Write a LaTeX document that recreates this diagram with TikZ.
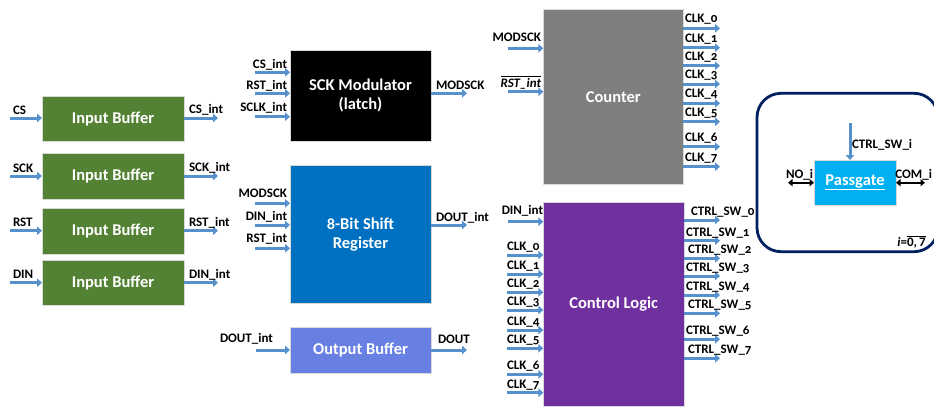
\documentclass[tikz,border=0pt]{standalone}
\usepackage{fontspec}
\setmainfont{Carlito}[Numbers=OldStyle]
\usetikzlibrary{arrows.meta}
\definecolor{ibgreen}{RGB}{84,130,53}
\definecolor{srblue}{RGB}{0,112,192}
\definecolor{obblue}{RGB}{103,128,226}
\definecolor{cntgray}{RGB}{127,127,127}
\definecolor{clpurple}{RGB}{112,48,160}
\definecolor{pgcyan}{RGB}{0,176,240}
\definecolor{panelnavy}{RGB}{0,32,96}
\definecolor{sigblue}{RGB}{86,145,205}
\tikzset{
  blk/.style={draw=gray!30, line width=0.6pt, inner sep=0pt, outer sep=0pt, text=white,
    font=\fontsize{16.5}{19.5}\selectfont\bfseries, align=center},
  lbl/.style={inner sep=0pt, outer sep=0pt, font=\fontsize{13}{15}\selectfont\bfseries, text=black},
  sig/.style={draw=sigblue, line width=3pt, -{Triangle[length=5pt,width=8.5pt]}},
  bidir/.style={draw=black, line width=2pt, {Triangle[length=4.5pt,width=7pt]}-{Triangle[length=4.5pt,width=7pt]}},
}
% box: name, x1, y1, x2, y2, fill, text
\newcommand\mkbox[7]{%
  \pgfmathsetmacro\myBW{#4-#2}\pgfmathsetmacro\myBH{#5-#3}%
  \node[blk, fill=#6, minimum width=\myBW pt, minimum height=\myBH pt] (#1) at ({(#2+#4)/2},{(#3+#5)/2}) {#7};}
% input arrow: box, id, x0, y
\newcommand\inarr[4]{\coordinate (#1-#2) at (#3,#4); \draw[sig] (#1-#2) -- (#1-#2 -| #1.west);}
% output arrow: box, id, x1, y
\newcommand\outarr[4]{\coordinate (#1-#2) at (#3,#4); \draw[sig] (#1-#2 -| #1.east) -- (#1-#2);}
\begin{document}
\begin{tikzpicture}[x=1pt,y=-1pt]
\useasboundingbox (0,0) rectangle (934,408);

% ---------- Input buffers ----------
\mkbox{ib1}{42}{96}{184}{141.5}{ibgreen}{Input Buffer}
\mkbox{ib2}{42}{153.3}{184}{199}{ibgreen}{Input Buffer}
\mkbox{ib3}{42}{208.3}{184}{254.3}{ibgreen}{Input Buffer}
\mkbox{ib4}{42}{260}{184}{305}{ibgreen}{Input Buffer}

\inarr{ib1}{in}{10}{118}   \node[lbl, anchor=base west] (l-cs) at (13,114) {CS};
\inarr{ib2}{in}{10}{176}   \node[lbl, anchor=base west] (l-sck) at (13,172) {SCK};
\inarr{ib3}{in}{10}{230.7} \node[lbl, anchor=base west] (l-rst) at (13,226.7) {RST};
\inarr{ib4}{in}{10}{282.7} \node[lbl, anchor=base west] (l-din) at (13,278.5) {DIN};

\outarr{ib1}{out}{218}{118}   \node[lbl, anchor=base west] (l-csi) at (189,113.5) {CS\_int};
\outarr{ib2}{out}{218}{176}   \node[lbl, anchor=base west] (l-scki) at (189,171.5) {SCK\_int};
\outarr{ib3}{out}{218}{230.7} \node[lbl, anchor=base west] (l-rsti) at (189,226.5) {RST\_int};
\outarr{ib4}{out}{218}{282.7} \node[lbl, anchor=base west] (l-dini) at (189,278.3) {DIN\_int};

% ---------- SCK Modulator ----------
\mkbox{sck}{290}{50}{431}{141}{black}{SCK Modulator\\(latch)}
\inarr{sck}{a}{255}{72.3}  \node[lbl, anchor=base east] (l-sck-a) at (287,68.3) {CS\_int};
\inarr{sck}{b}{255}{93.3}  \node[lbl, anchor=base east] (l-sck-b) at (287,89.3) {RST\_int};
\inarr{sck}{c}{255}{116.7} \node[lbl, anchor=base east] (l-sck-c) at (287,111.7) {SCLK\_int};
\outarr{sck}{o}{467}{93.3} \node[lbl, anchor=base west] (l-sck-o) at (436,89.5) {MODSCK};

% ---------- 8-bit shift register ----------
\mkbox{sr}{290}{165.7}{431}{303.3}{srblue}{8-Bit Shift\\Register}
\inarr{sr}{a}{255}{203.3} \node[lbl, anchor=base east] (l-sr-a) at (287,197.3) {MODSCK};
\inarr{sr}{b}{255}{225}   \node[lbl, anchor=base east] (l-sr-b) at (287,220.7) {DIN\_int};
\inarr{sr}{c}{255}{248.3} \node[lbl, anchor=base east] (l-sr-c) at (287,242.7) {RST\_int};
\outarr{sr}{o}{467}{225}  \node[lbl, anchor=base west] (l-sr-o) at (436,221) {DOUT\_int};

% ---------- Output buffer ----------
\mkbox{ob}{290}{327.3}{431}{373.3}{obblue}{Output Buffer}
\inarr{ob}{a}{256}{350}  \node[lbl, anchor=base west] (l-ob-a) at (220,342.5) {DOUT\_int};
\outarr{ob}{o}{467}{350} \node[lbl, anchor=base west] (l-ob-o) at (438,343) {DOUT};

% ---------- Counter ----------
\mkbox{cnt}{543.3}{9.3}{683.3}{184}{cntgray}{Counter}
\inarr{cnt}{a}{508}{48.3} \node[lbl, anchor=base east] (l-cnt-a) at (541,41) {MODSCK};
\inarr{cnt}{b}{508}{91.7} \node[lbl, anchor=base east] (l-cnt-b) at (541,87)
  {$\overline{\mbox{\fontsize{13}{15}\selectfont\bfseries\itshape RST\_int}}$};
\foreach \k/\yy in {0/28.3,1/47.7,2/65.7,3/84,4/103.3,5/121.7,6/146.7,7/166.7}{
  \outarr{cnt}{o\k}{720}{\yy}
  \node[lbl, anchor=base west] (l-cnt-o\k) at (685,\yy-5.5) {CLK\_\k};
}

% ---------- Control logic ----------
\mkbox{cl}{543.3}{202.3}{684}{406}{clpurple}{Control Logic}
\inarr{cl}{din}{508}{221.7} \node[lbl, anchor=base east] (l-cl-din) at (543,214) {DIN\_int};
\foreach \k/\yy in {0/255,1/274,2/292.3,3/310,4/330,5/348.3,6/374.3,7/392.7}{
  \inarr{cl}{i\k}{507}{\yy}
  \node[lbl, anchor=base west] (l-cl-i\k) at (507,\yy-4.5) {CLK\_\k};
}
\foreach \k/\yy/\xx in {0/220/691,1/240.7/686,2/258.3/688,3/276/686,4/295/686,5/313.3/688,6/339.3/686,7/358.3/688}{
  \outarr{cl}{o\k}{720}{\yy}
  \node[lbl, anchor=base west] (l-cl-o\k) at (\xx,\yy-4.5) {CTRL\_SW\_\k};
}

% ---------- Passgate panel ----------
\node[draw=panelnavy, line width=2.8pt, rounded corners=24pt, inner sep=0pt,
  minimum width=181pt, minimum height=158.4pt] (panel) at (847.5,172.5) {};
\mkbox{pg}{814}{160}{896}{205}{pgcyan}{\underline{Passgate}}
\coordinate (ctrli) at (850,123);
\draw[sig] (ctrli) -- (ctrli |- pg.north);
\node[lbl, anchor=base west] (l-ctrli) at (852,148.3) {CTRL\_SW\_i};
\coordinate (noi) at (788,182.7);
\draw[bidir] (noi) -- (noi -| pg.west);
\node[lbl, anchor=base west] (l-noi) at (786,178) {NO\_i};
\coordinate (comi) at (925,182.7);
\draw[bidir] (comi -| pg.east) -- (comi);
\node[lbl, anchor=base east] (l-comi) at (932,178) {COM\_i};
\node[inner sep=0pt, anchor=base east, font=\fontsize{13}{15}\selectfont\bfseries\addfontfeatures{Numbers=Lining}] (l-range) at (926,246)
  {\textit{i}=$\overline{\mbox{\fontsize{13}{15}\selectfont\bfseries\addfontfeatures{Numbers=Lining}0,\,7}}$};
\end{tikzpicture}
\end{document}
